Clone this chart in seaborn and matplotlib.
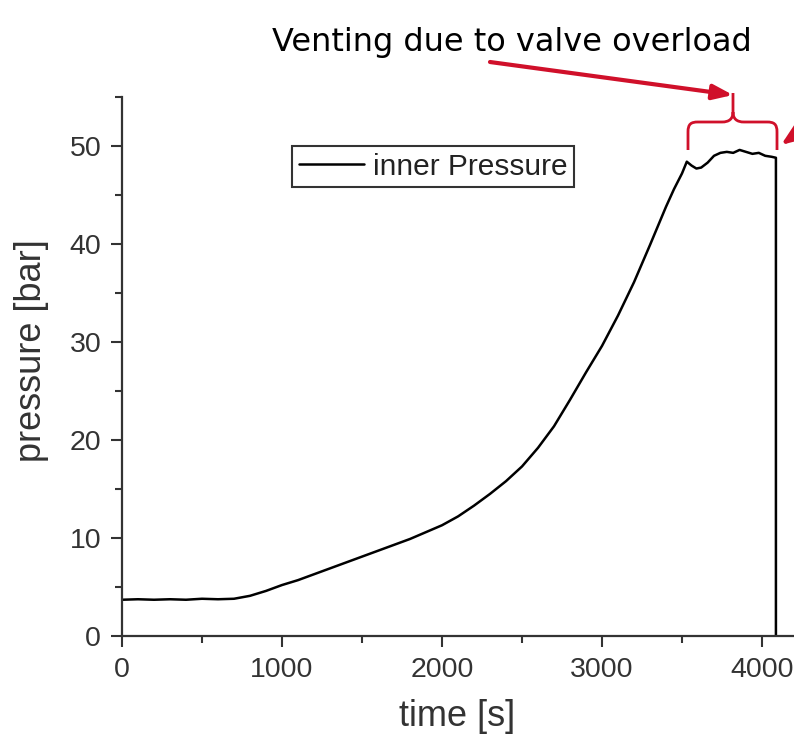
import pandas as pd
import matplotlib
matplotlib.use('Agg')
import matplotlib.pyplot as plt
from matplotlib.path import Path
from matplotlib.patches import PathPatch
from matplotlib.ticker import MultipleLocator
import seaborn as sns

# pressure trace (time in s, pressure in bar)
time_s = [0, 100, 200, 300, 400, 500, 600, 700, 800, 900,
          1000, 1100, 1200, 1300, 1400, 1500, 1600, 1700, 1800, 1900,
          2000, 2100, 2200, 2300, 2400, 2500, 2600, 2700, 2800, 2900,
          3000, 3100, 3200, 3300, 3400, 3450, 3500, 3530, 3560, 3590,
          3620, 3660, 3700, 3740, 3780, 3820, 3860, 3900, 3940, 3980,
          4020, 4060, 4087, 4087]
pressure_bar = [3.7, 3.75, 3.7, 3.75, 3.7, 3.8, 3.75, 3.8, 4.1, 4.6,
                5.2, 5.7, 6.3, 6.9, 7.5, 8.1, 8.7, 9.3, 9.9, 10.6,
                11.3, 12.2, 13.3, 14.5, 15.8, 17.3, 19.2, 21.4, 24.1, 26.9,
                29.6, 32.7, 36.1, 39.9, 43.8, 45.6, 47.2, 48.4, 48.0, 47.7,
                47.8, 48.3, 49.0, 49.3, 49.4, 49.3, 49.6, 49.4, 49.2, 49.3,
                49.0, 48.9, 48.8, 0.0]

note_text = 'Venting due to valve overload'
red = '#d0102a'
dark = '#333333'

sns.set_style('ticks')
plt.rcParams['font.family'] = ['Liberation Sans', 'DejaVu Sans']

W, H = 794, 739
fig = plt.figure(figsize=(W / 100, H / 100), dpi=100)
ax = fig.add_axes([122 / W, 1 - 636 / H, 1 - 122 / W, (636 - 97) / H])

df = pd.DataFrame({'time': time_s, 'pressure': pressure_bar})
sns.lineplot(data=df, x='time', y='pressure', estimator=None, sort=False,
             color='black', lw=1.8, label='inner Pressure', ax=ax)

ax.set_xlim(0, 4200)
ax.set_ylim(0, 55)
ax.xaxis.set_major_locator(MultipleLocator(1000))
ax.xaxis.set_minor_locator(MultipleLocator(500))
ax.yaxis.set_major_locator(MultipleLocator(10))
ax.yaxis.set_minor_locator(MultipleLocator(5))
ax.tick_params(which='major', direction='out', length=8, width=1.5,
               labelsize=20.5, color=dark, labelcolor=dark, pad=7)
ax.tick_params(which='minor', direction='out', length=5, width=1.5, color=dark)
for s in ['top', 'right']:
    ax.spines[s].set_visible(False)
for s in ['left', 'bottom']:
    ax.spines[s].set_linewidth(1.6)
    ax.spines[s].set_color(dark)

ax.set_xlabel('time [s]', fontsize=26, color=dark)
ax.set_ylabel('pressure [bar]', fontsize=26, color=dark)
ax.xaxis.set_label_coords(0.4985, -0.117)
ax.yaxis.set_label_coords(-0.108, 0.529)

leg = ax.legend(loc='upper left', bbox_to_anchor=((292 - 122) / 672, (636 - 146) / 539),
                borderaxespad=0, frameon=True, fancybox=False, edgecolor='black',
                fontsize=21.5, handlelength=2.2, handletextpad=0.3, borderpad=0.22)
leg.get_frame().set_linewidth(1.5)
for t in leg.get_texts():
    t.set_color('#222222')

# annotation: text, arrows and brace
fig.text(512 / W, 1 - 42 / H, note_text, ha='center', va='center',
         fontsize=23, family='DejaVu Sans', color='black')

def fp(px, py):
    return (px / W, 1 - py / H)

ax.annotate('', xy=fp(733, 95), xycoords='figure fraction',
            xytext=fp(490, 62), textcoords='figure fraction',
            arrowprops=dict(arrowstyle='-|>,head_length=1.2,head_width=0.45',
                            color=red, lw=3, shrinkA=0, shrinkB=0),
            annotation_clip=False)
ax.annotate('', xy=fp(781, 145), xycoords='figure fraction',
            xytext=fp(830, 110), textcoords='figure fraction',
            arrowprops=dict(arrowstyle='-|>,head_length=1.3,head_width=0.5',
                            color=red, lw=3, shrinkA=0, shrinkB=0),
            annotation_clip=False)

brace_pts = [(688, 150), (688, 132), (688, 124), (691, 122), (698, 122),
             (722, 122), (729, 122), (733, 119), (733, 112), (733, 93),
             (733, 112), (733, 119), (737, 122), (744, 122), (767, 122),
             (774, 122), (777, 124), (777, 132), (777, 150)]
codes = [Path.MOVETO, Path.LINETO, Path.CURVE4, Path.CURVE4, Path.CURVE4,
         Path.LINETO, Path.CURVE4, Path.CURVE4, Path.CURVE4, Path.LINETO,
         Path.MOVETO, Path.CURVE4, Path.CURVE4, Path.CURVE4, Path.LINETO,
         Path.CURVE4, Path.CURVE4, Path.CURVE4, Path.LINETO]
brace = PathPatch(Path([fp(*p) for p in brace_pts], codes), transform=fig.transFigure,
                  fill=False, edgecolor=red, lw=2)
fig.add_artist(brace)

fig.savefig('out.png', dpi=100)
